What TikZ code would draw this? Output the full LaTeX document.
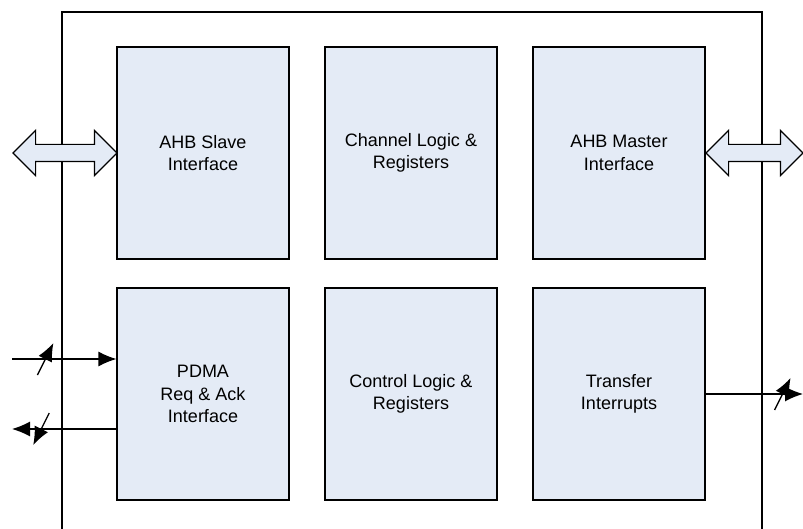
\documentclass[tikz,border=0pt]{standalone}
\usepackage{fontspec}
\setmainfont{Liberation Sans}
\usetikzlibrary{shapes.arrows,arrows.meta,decorations.markings}
\begin{document}
\begin{tikzpicture}[x=1pt,y=-1pt,font=\fontsize{18}{22.5}\selectfont]
  \definecolor{blocofill}{HTML}{E4EBF6}
  \tikzset{
    bloco/.style={draw,line width=1.2pt,fill=blocofill,minimum width=172pt,
      minimum height=212pt,align=center,inner sep=0pt},
    barramento/.style={double arrow,draw,line width=1.2pt,fill=blocofill,
      inner xsep=0pt,inner ysep=8pt,double arrow head extend=14pt},
    sinal/.style={line width=1.2pt,-{Latex[length=18pt,width=15pt]}},
    fatia/.style={postaction={decorate},decoration={markings,
      mark=at position #1 with {\draw[line width=1.3pt] (-8pt,-16pt) -- (8pt,16pt);}}}
  }
  \useasboundingbox (0,0) rectangle (803,529);
  % moldura externa (aberta em baixo)
  \draw[line width=1.2pt] (62,529) |- (762,12) -- (762,529);
  % blocos: nome/coluna/linha/texto
  \foreach \n/\xc/\yc/\t in {slave/203/153/{AHB Slave\\Interface},
                             chan/411/153/{Channel Logic \&\\Registers},
                             master/619/153/{AHB Master\\Interface},
                             pdma/203/394/{PDMA\\Req \& Ack\\Interface},
                             ctrl/411/394/{Control Logic \&\\Registers},
                             xfer/619/394/{Transfer\\Interrupts}} {
    \node[bloco] (\n) at (\xc,\yc) {\t};
  }
  % barramentos AHB
  \node[barramento,minimum height=104pt] (ahbL) at (65,153) {};
  \node[barramento,minimum height=97pt] (ahbR) at (754.5,153) {};
  % sinais de req/ack e interrupcao
  \coordinate (reqIn) at (12,359);
  \coordinate (ackOut) at (12,429);
  \coordinate (intOut) at (803,394);
  \draw[sinal,fatia=0.32] (reqIn) -- (reqIn -| pdma.west);
  \draw[sinal,fatia=0.72] (ackOut -| pdma.west) -- (ackOut);
  \draw[sinal,fatia=0.79] (xfer.east |- intOut) -- (intOut);
\end{tikzpicture}
\end{document}
